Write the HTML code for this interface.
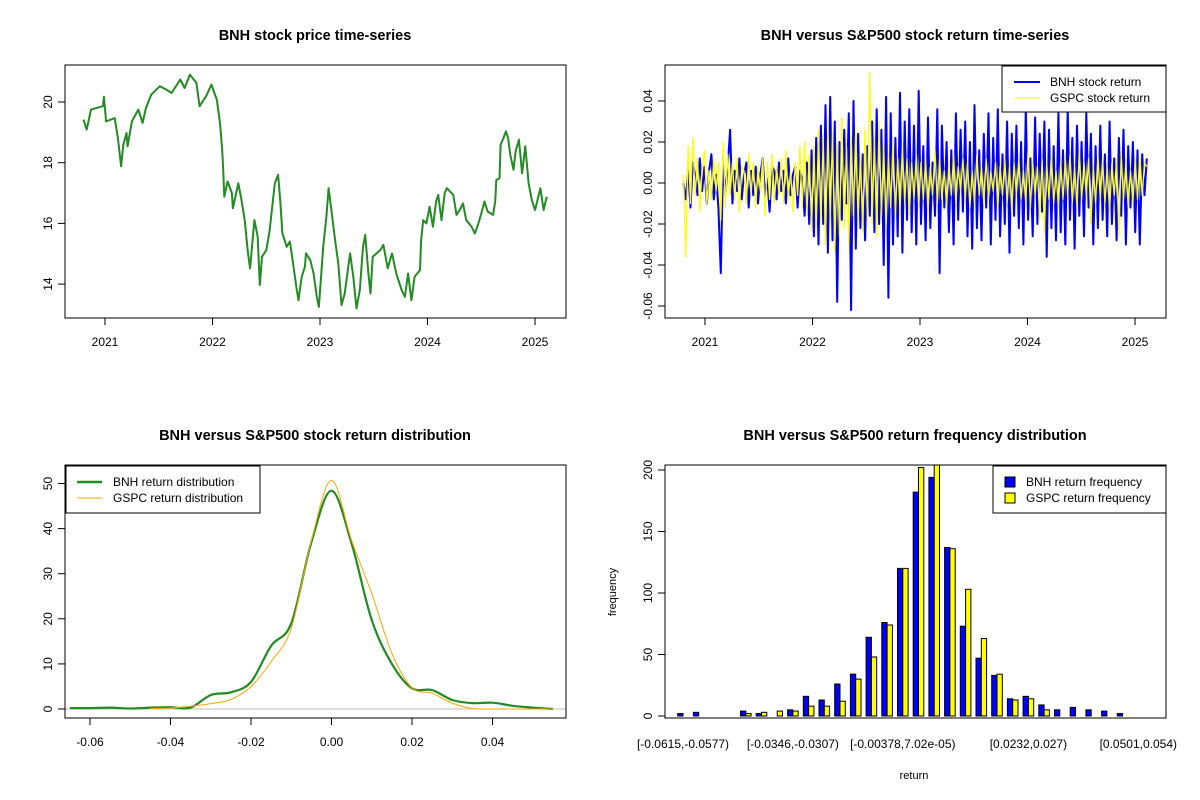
<!DOCTYPE html>
<html><head><meta charset="utf-8"><style>
body{margin:0;background:#fff;}
svg{display:block;font-family:"Liberation Sans",Arial,sans-serif;}
</style></head><body>
<svg id="chart" width="1200" height="800" viewBox="0 0 1200 800" xmlns="http://www.w3.org/2000/svg">
<rect x="0" y="0" width="1200" height="800" fill="#fff"/>
</svg>
<script>
// ---------- data ----------
const priceYears=[2020.80,2020.83,2020.87,2020.98,2020.99,2021.01,2021.09,2021.12,2021.15,2021.17,2021.20,2021.21,2021.25,2021.31,2021.35,2021.38,2021.43,2021.51,2021.57,2021.62,2021.70,2021.74,2021.79,2021.85,2021.88,2021.94,2021.99,2022.04,2022.07,2022.09,2022.10,2022.11,2022.14,2022.18,2022.19,2022.24,2022.27,2022.30,2022.33,2022.35,2022.37,2022.39,2022.42,2022.44,2022.46,2022.50,2022.53,2022.58,2022.61,2022.63,2022.65,2022.69,2022.72,2022.75,2022.78,2022.80,2022.83,2022.86,2022.87,2022.91,2022.94,2022.97,2022.99,2023.03,2023.06,2023.08,2023.11,2023.14,2023.17,2023.20,2023.23,2023.28,2023.31,2023.34,2023.37,2023.40,2023.42,2023.45,2023.47,2023.49,2023.56,2023.59,2023.63,2023.67,2023.71,2023.76,2023.79,2023.82,2023.85,2023.88,2023.93,2023.94,2023.96,2023.99,2024.02,2024.05,2024.08,2024.10,2024.13,2024.16,2024.18,2024.24,2024.27,2024.30,2024.33,2024.36,2024.41,2024.44,2024.47,2024.50,2024.53,2024.56,2024.61,2024.63,2024.64,2024.67,2024.68,2024.70,2024.73,2024.75,2024.77,2024.80,2024.82,2024.85,2024.88,2024.91,2024.94,2024.97,2025.00,2025.05,2025.08,2025.11];
const priceValues=[19.42,19.09,19.75,19.86,20.17,19.36,19.47,18.81,17.88,18.59,18.98,18.54,19.36,19.75,19.31,19.80,20.24,20.52,20.41,20.30,20.74,20.46,20.90,20.63,19.86,20.19,20.57,20.08,19.31,18.43,17.77,16.88,17.38,17.00,16.50,17.32,16.77,16.11,15.01,14.52,15.34,16.11,15.56,13.97,14.90,15.12,15.73,17.32,17.60,16.77,15.67,15.23,15.40,14.68,13.91,13.47,14.24,14.57,15.01,14.79,14.35,13.58,13.25,15.23,16.22,17.16,16.33,15.45,14.68,13.31,13.69,15.01,14.24,13.20,13.80,15.23,15.62,14.35,13.69,14.90,15.12,15.29,14.52,15.01,14.35,13.80,13.58,14.35,13.47,14.24,14.46,15.45,16.11,16.00,16.55,15.89,16.72,16.94,16.11,17.00,17.16,16.94,16.28,16.44,16.66,16.11,15.89,15.67,15.95,16.33,16.72,16.39,16.28,16.72,17.43,17.49,18.59,18.76,19.03,18.81,18.26,17.77,18.37,18.76,17.65,18.54,17.32,16.77,16.44,17.16,16.44,16.88];
const priceYTicks=[14,16,18,20];
const yearTicks=[2021,2022,2023,2024,2025];
const retStart=2020.80, retEnd=2025.11;
const bnhReturns=[0.000,-0.008,0.006,-0.012,0.010,0.004,-0.006,0.012,-0.004,0.008,-0.010,0.006,0.014,-0.008,0.004,-0.012,-0.044,0.010,-0.006,0.008,
0.026,-0.010,0.006,-0.004,0.012,-0.008,0.004,0.010,-0.012,0.006,-0.006,0.008,-0.010,0.004,0.012,-0.006,0.002,-0.014,0.008,0.006,
-0.008,0.010,-0.004,0.006,-0.010,0.012,-0.006,0.004,0.008,-0.012,0.006,0.002,-0.016,0.010,-0.020,0.016,-0.026,0.022,-0.030,0.028,
-0.020,0.038,-0.034,0.042,-0.028,0.030,-0.058,0.020,-0.018,0.026,-0.010,0.034,-0.062,0.040,-0.032,0.024,-0.022,0.014,-0.028,0.018,
-0.016,0.030,-0.024,0.036,-0.020,0.026,-0.040,0.042,-0.056,0.034,-0.030,0.022,-0.026,0.044,-0.034,0.030,-0.018,0.036,-0.024,0.028,
-0.030,0.045,-0.020,0.018,-0.028,0.032,-0.022,0.010,-0.016,0.036,-0.044,0.028,-0.012,0.020,-0.024,0.016,-0.030,0.034,-0.018,0.026,
-0.014,0.030,-0.026,0.020,-0.032,0.038,-0.022,0.016,-0.028,0.024,-0.012,0.034,-0.030,0.022,-0.018,0.036,-0.026,0.014,-0.020,0.030,
-0.034,0.024,-0.016,0.028,-0.022,0.020,-0.030,0.036,-0.018,0.012,-0.026,0.032,-0.020,0.024,-0.014,0.030,-0.036,0.026,-0.022,0.018,
-0.028,0.034,-0.024,0.016,-0.030,0.036,-0.018,0.022,-0.032,0.028,-0.016,0.020,-0.026,0.034,-0.012,0.024,-0.030,0.018,-0.022,0.028,
-0.018,0.014,-0.026,0.030,-0.020,0.012,-0.028,0.022,-0.016,0.026,-0.030,0.018,-0.012,0.020,-0.024,0.016,-0.030,0.014,-0.006,0.012];
const gspcReturns=[0.004,-0.036,0.018,-0.010,0.022,-0.006,0.012,-0.014,0.008,0.016,-0.010,0.006,-0.008,0.012,-0.004,0.010,-0.018,0.020,-0.012,0.014,
-0.006,0.010,-0.008,0.012,-0.014,0.008,0.006,-0.010,0.014,-0.006,0.010,-0.012,0.008,-0.004,0.012,-0.016,0.010,-0.008,0.014,-0.010,
0.008,-0.006,0.012,-0.010,0.016,-0.008,0.006,-0.014,0.010,-0.006,0.018,-0.012,0.020,-0.016,0.014,-0.022,0.018,-0.024,0.026,-0.020,
0.022,-0.030,0.028,-0.018,0.024,-0.034,0.020,-0.026,0.032,-0.022,0.018,-0.030,0.024,-0.016,0.028,-0.020,0.014,-0.024,0.026,-0.018,
0.054,-0.020,0.022,-0.026,0.030,-0.016,0.018,-0.022,0.014,-0.012,0.020,-0.016,0.012,-0.014,0.018,-0.010,0.012,-0.016,0.010,-0.008,
0.014,-0.012,0.010,-0.008,0.012,-0.014,0.008,-0.006,0.016,-0.010,0.012,-0.008,0.006,-0.012,0.010,-0.006,0.014,-0.010,0.008,-0.004,
0.012,-0.008,0.010,-0.012,0.006,-0.010,0.014,-0.006,0.008,-0.010,0.012,-0.008,0.006,-0.004,0.010,-0.012,0.008,-0.006,0.012,-0.010,
0.008,-0.014,0.010,-0.006,0.012,-0.008,0.006,-0.010,0.016,-0.012,0.010,-0.006,0.008,-0.018,0.012,-0.024,0.010,-0.008,0.014,-0.010,
0.006,-0.012,0.010,-0.008,0.012,-0.006,0.014,-0.010,0.008,-0.012,0.016,-0.008,0.010,-0.006,0.012,-0.020,0.008,-0.010,0.014,-0.008,
0.012,-0.010,0.008,-0.014,0.010,-0.006,0.012,-0.026,0.014,-0.008,0.010,-0.012,0.006,-0.010,0.012,-0.008,0.014,-0.006,0.010,0.008];
const retYTicks=[-0.06,-0.04,-0.02,0,0.02,0.04];
const retYTickLabels=["-0.06","-0.04","-0.02","0.00","0.02","0.04"];
const densX=[-0.065,-0.06,-0.055,-0.05,-0.045,-0.04,-0.035,-0.03,-0.025,-0.02,-0.015,-0.01,-0.005,0,0.005,0.01,0.015,0.02,0.025,0.03,0.035,0.04,0.045,0.05,0.055];
const bnhDensity=[0.2,0.2,0.3,0.1,0.3,0.4,0.3,3.1,3.7,6,14,19,37,48.4,36.7,19.7,10,4.6,4.2,2,1.3,1.4,0.7,0.3,0];
const gspcDensity=[null,null,null,null,0.1,0.2,0.6,1.2,2.1,5,10.5,17.9,37.4,50.7,37.4,25.6,12.3,4.7,3.5,1.3,0.1,0,0,0,0];
const densXTicks=[-0.06,-0.04,-0.02,0,0.02,0.04];
const densXTickLabels=["-0.06","-0.04","-0.02","0.00","0.02","0.04"];
const densYTicks=[0,10,20,30,40,50];
const histBnh=[2,3,0,0,4,2,0,5,16,13,26,34,64,76,120,182,194,137,73,47,33,14,16,9,5,7,5,4,2,0];
const histGspc=[0,0,0,0,2,3,4,4,8,8,12,30,48,74,120,202,210,136,103,63,34,13,14,5,0,0,0,0,0,0];
const histLabels={0:"[-0.0615,-0.0577)",7:"[-0.0346,-0.0307)",14:"[-0.00378,7.02e-05)",22:"[0.0232,0.027)",29:"[0.0501,0.054)"};
const histYTicks=[0,50,100,150,200];

// ---------- helpers ----------
const svg=document.getElementById('chart');
const NS='http://www.w3.org/2000/svg';
function mk(tag,attrs,parent){const e=document.createElementNS(NS,tag);for(const k in attrs)e.setAttribute(k,attrs[k]);(parent||svg).appendChild(e);return e;}
function txt(s,x,y,size,anchor,parent,extra){const e=mk('text',Object.assign({x:x,y:y,'font-size':size,'text-anchor':anchor||'middle',fill:'#000'},extra||{}),parent);e.textContent=s;return e;}
function group(name){const g=mk('g',{});return g;}
function box(g,x0,y0,x1,y1){const r=mk('rect',{x:x0,y:y0,width:x1-x0,height:y1-y0,fill:'none',stroke:'#000','stroke-width':1},g);}
function yAxis(g,x0,ticks,labels,sy){const a=group('y-axis');g.appendChild(a);
  mk('line',{x1:x0,x2:x0,y1:sy(ticks[0]),y2:sy(ticks[ticks.length-1]),stroke:'#000'},a);
  ticks.forEach((t,i)=>{const y=sy(t);mk('line',{x1:x0,x2:x0-7,y1:y,y2:y,stroke:'#000'},a);
    const l=txt(labels[i],x0-13,y,12,'middle',a,{transform:`rotate(-90 ${x0-13} ${y})`});
    });}
function xAxis(g,y0,ticks,labels,sx,ly){const a=group('x-axis');g.appendChild(a);
  mk('line',{x1:sx(ticks[0]),x2:sx(ticks[ticks.length-1]),y1:y0,y2:y0,stroke:'#000'},a);
  ticks.forEach((t,i)=>{const x=sx(t);mk('line',{x1:x,x2:x,y1:y0,y2:y0+7,stroke:'#000'},a);
    const l=txt(labels[i],x,ly,12,'middle',a);});}
function title(g,s,x,y){const t=txt(s,x,y,14.5,'middle',g,{'font-weight':'bold'});}
function poly(g,pts,color,w,name){const p=mk('polyline',{points:pts.map(p=>p[0].toFixed(1)+','+p[1].toFixed(1)).join(' '),fill:'none',stroke:color,'stroke-width':w,'stroke-linejoin':'round'},g);return p;}
function smooth(g,pts,color,w,name){let d='M'+pts[0][0].toFixed(1)+','+pts[0][1].toFixed(1);
  for(let i=0;i<pts.length-1;i++){const p0=pts[Math.max(0,i-1)],p1=pts[i],p2=pts[i+1],p3=pts[Math.min(pts.length-1,i+2)];
    const c1=[p1[0]+(p2[0]-p0[0])/6,p1[1]+(p2[1]-p0[1])/6],c2=[p2[0]-(p3[0]-p1[0])/6,p2[1]-(p3[1]-p1[1])/6];
    d+=` C${c1[0].toFixed(1)},${c1[1].toFixed(1)} ${c2[0].toFixed(1)},${c2[1].toFixed(1)} ${p2[0].toFixed(1)},${p2[1].toFixed(1)}`;}
  const p=mk('path',{d:d,fill:'none',stroke:color,'stroke-width':w},g);return p;}

const yrX=(ox)=>(y)=>ox+105+(y-2021)*107.5;

// ---------- panel 1: price ----------
(function(){const g=group('price-panel');
  const sx=yrX(0), sy=v=>102+(20-v)*30.35;
  title(g,'BNH stock price time-series',315,40);
  poly(g,priceYears.map((y,i)=>[sx(y),sy(priceValues[i])]),'#228B22',2,'price-line');
  box(g,65,65,566,318);
  yAxis(g,65,priceYTicks,priceYTicks.map(String),sy);
  xAxis(g,318,yearTicks,yearTicks.map(String),sx,346);
})();

// ---------- panel 2: returns ----------
(function(){const g=group('returns-panel');
  const sx=yrX(600), sy=v=>183-v*2050;
  title(g,'BNH versus S&P500 stock return time-series',915,40);
  const n=bnhReturns.length;
  const yr=i=>retStart+i*(retEnd-retStart)/(n-1);
  poly(g,bnhReturns.map((v,i)=>[sx(yr(i)),sy(v)]),'#0000FF',2,'bnh-return-line');
  poly(g,gspcReturns.map((v,i)=>[sx(yr(i)),sy(v)]),'#FFFF00',1.3,'gspc-return-line');
  box(g,665,65,1166,318);
  yAxis(g,665,retYTicks,retYTickLabels,sy);
  xAxis(g,318,yearTicks,yearTicks.map(String),sx,346);
  const lg=group('legend');g.appendChild(lg);
  mk('rect',{x:1002,y:66,width:164,height:46,fill:'#fff',stroke:'#000'},lg);
  mk('line',{x1:1014,x2:1040,y1:82,y2:82,stroke:'#0000FF','stroke-width':2},lg);
  mk('line',{x1:1014,x2:1040,y1:98,y2:98,stroke:'#FFFF00','stroke-width':1},lg);
  const a=txt('BNH stock return',1050,86,12,'start',lg);
  const b=txt('GSPC stock return',1050,102,12,'start',lg);
})();

// ---------- panel 3: density ----------
(function(){const g=group('density-panel');
  const sx=v=>331.5+v*4025, sy=v=>709-v*4.51;
  title(g,'BNH versus S&P500 stock return distribution',315,440);
  mk('line',{x1:65,x2:566,y1:sy(0),y2:sy(0),stroke:'#BEBEBE'},g);
  const gp=[];densX.forEach((x,i)=>{if(gspcDensity[i]!==null)gp.push([sx(x),sy(gspcDensity[i])]);});
  smooth(g,densX.map((x,i)=>[sx(x),sy(bnhDensity[i])]),'#228B22',2.2,'bnh-density-line');
  smooth(g,gp,'#FFA500',1,'gspc-density-line');
  box(g,65,465,566,718);
  yAxis(g,65,densYTicks,densYTicks.map(String),sy);
  xAxis(g,718,densXTicks,densXTickLabels,sx,746);
  const lg=group('legend');g.appendChild(lg);
  mk('rect',{x:66,y:466,width:194,height:47,fill:'#fff',stroke:'#000'},lg);
  mk('line',{x1:77,x2:102,y1:482,y2:482,stroke:'#228B22','stroke-width':2.5},lg);
  mk('line',{x1:77,x2:102,y1:498,y2:498,stroke:'#FFA500','stroke-width':1},lg);
  const a=txt('BNH return distribution',113,486,12,'start',lg);
  const b=txt('GSPC return distribution',113,502,12,'start',lg);
})();

// ---------- panel 4: histogram ----------
(function(){const g=group('histogram-panel');
  const sy=v=>716-v*1.23;
  const gx=i=>683+i*15.7;
  const bw=5.3;
  title(g,'BNH versus S&P500 return frequency distribution',915,440);
  const cp=mk('clipPath',{id:'histclip'},g);mk('rect',{x:665,y:465,width:501,height:253},cp);
  const bars=group('bars');g.appendChild(bars);bars.setAttribute('clip-path','url(#histclip)');
  histBnh.forEach((v,i)=>{const r=mk('rect',{x:gx(i)-bw,y:sy(v),width:bw,height:Math.max(0,sy(0)-sy(v)),fill:'#0000FF',stroke:'#000','stroke-width':1},bars);
    });
  histGspc.forEach((v,i)=>{const r=mk('rect',{x:gx(i),y:sy(v),width:bw,height:Math.max(0,sy(0)-sy(v)),fill:'#FFFF00',stroke:'#000','stroke-width':1},bars);
    });
  box(g,665,465,1166,718);
  yAxis(g,665,histYTicks,histYTicks.map(String),sy);
  const xl=group('x-axis');g.appendChild(xl);
  Object.keys(histLabels).forEach(k=>{const t=txt(histLabels[k],gx(+k),748,12,'middle',xl);});
  const xt=txt('return',914,779,11,'middle',g);
  const yt=txt('frequency',616,592,11,'middle',g,{transform:'rotate(-90 616 592)'});
  const lg=group('legend');g.appendChild(lg);
  mk('rect',{x:993,y:466,width:173,height:47,fill:'#fff',stroke:'#000'},lg);
  mk('rect',{x:1005,y:477,width:10,height:10,fill:'#0000FF',stroke:'#000'},lg);
  mk('rect',{x:1005,y:493,width:10,height:10,fill:'#FFFF00',stroke:'#000'},lg);
  const a=txt('BNH return frequency',1026,486,12,'start',lg);
  const b=txt('GSPC return frequency',1026,502,12,'start',lg);
})();
</script>
</body></html>
